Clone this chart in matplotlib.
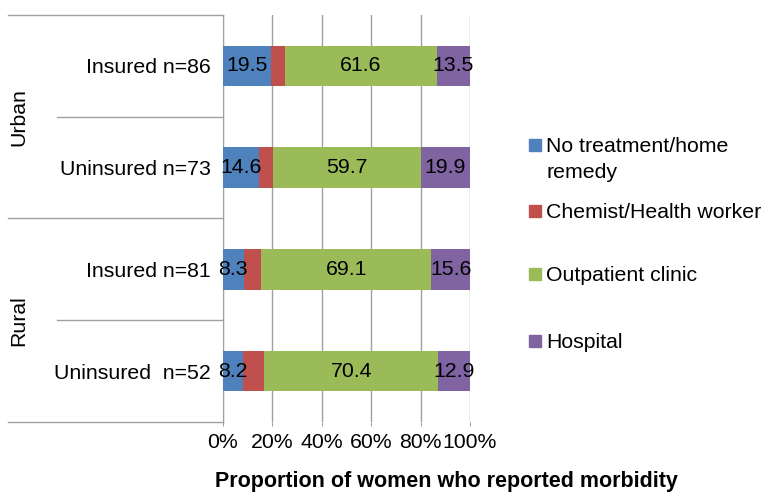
import matplotlib.pyplot as plt
import matplotlib.transforms as mtransforms
from matplotlib.patches import Rectangle
import numpy as np

plt.rcParams['font.family'] = ['Liberation Sans', 'DejaVu Sans']

groups = ["Insured n=86", "Uninsured n=73", "Insured n=81", "Uninsured  n=52"]
areas = ["Urban", "Rural"]
categories = ["No treatment/home\nremedy", "Chemist/Health worker", "Outpatient clinic", "Hospital"]
no_treatment = [19.5, 14.6, 8.3, 8.2]
chemist = [5.4, 5.8, 7.0, 8.5]
outpatient = [61.6, 59.7, 69.1, 70.4]
hospital = [13.5, 19.9, 15.6, 12.9]
label_series = [True, False, True, True]
colors = ["#4F81BD", "#C0504D", "#9BBB59", "#8064A2"]
ticks = [0, 20, 40, 60, 80, 100]

fs = 15.3

fig = plt.figure(figsize=(7.66, 4.93), dpi=100)
ax = fig.add_axes([223/766, 1 - 422/493, 247/766, 407/493])

ypos = np.arange(len(groups))[::-1]
left = np.zeros(len(groups))
for vals, col, show in zip([no_treatment, chemist, outpatient, hospital], colors, label_series):
	vals = np.array(vals)
	ax.barh(ypos, vals, left=left, height=0.4, color=col, zorder=3)
	if show:
		for y, l, v in zip(ypos, left, vals):
			ax.text(l + v / 2, y, f"{v:.1f}", ha="center", va="center", fontsize=fs, zorder=4)
	left += vals

ax.set_xlim(0, 100)
ax.set_ylim(-0.5, 3.5)
ax.set_xticks(ticks)
ax.set_xticklabels([f"{t}%" for t in ticks], fontsize=fs)
ax.set_yticks(ypos)
ax.set_yticklabels(groups, fontsize=fs)
ax.tick_params(axis="y", length=0, pad=9)
ax.tick_params(axis="x", length=3, color="#A0A0A0", pad=5)
ax.grid(axis="x", color="#A0A0A0", linewidth=1, zorder=0)
for s in ["top", "right", "bottom"]:
	ax.spines[s].set_visible(False)
ax.spines["left"].set_color("#A0A0A0")

# group separators on the left
trans = mtransforms.blended_transform_factory(ax.transAxes, ax.transData)
for y in [-0.5, 1.5, 3.5]:
	ax.plot([-0.87, 0], [y, y], color="#A0A0A0", lw=1, transform=trans, clip_on=False)
for y in [0.5, 2.5]:
	ax.plot([-0.672, 0], [y, y], color="#A0A0A0", lw=1, transform=trans, clip_on=False)
for name, y in zip(areas, [2.5, 0.5]):
	ax.text(-0.825, y, name, rotation=90, ha="center", va="center", fontsize=fs, transform=trans)

fig.text(446/766, 1 - 481/493, "Proportion of women who reported morbidity",
	ha="center", va="center", fontsize=15.5, fontweight="bold")

# legend
leg_y = [145, 211, 274, 341]
for lab, col, y in zip(categories, colors, leg_y):
	fig.patches.append(Rectangle((529/766, 1 - (y + 6)/493), 12/766, 12/493,
		transform=fig.transFigure, color=col))
	fig.text(546/766, 1 - (y - 8)/493, lab, ha="left", va="top", fontsize=fs, linespacing=1.5)

fig.savefig("out.png", dpi=100)
